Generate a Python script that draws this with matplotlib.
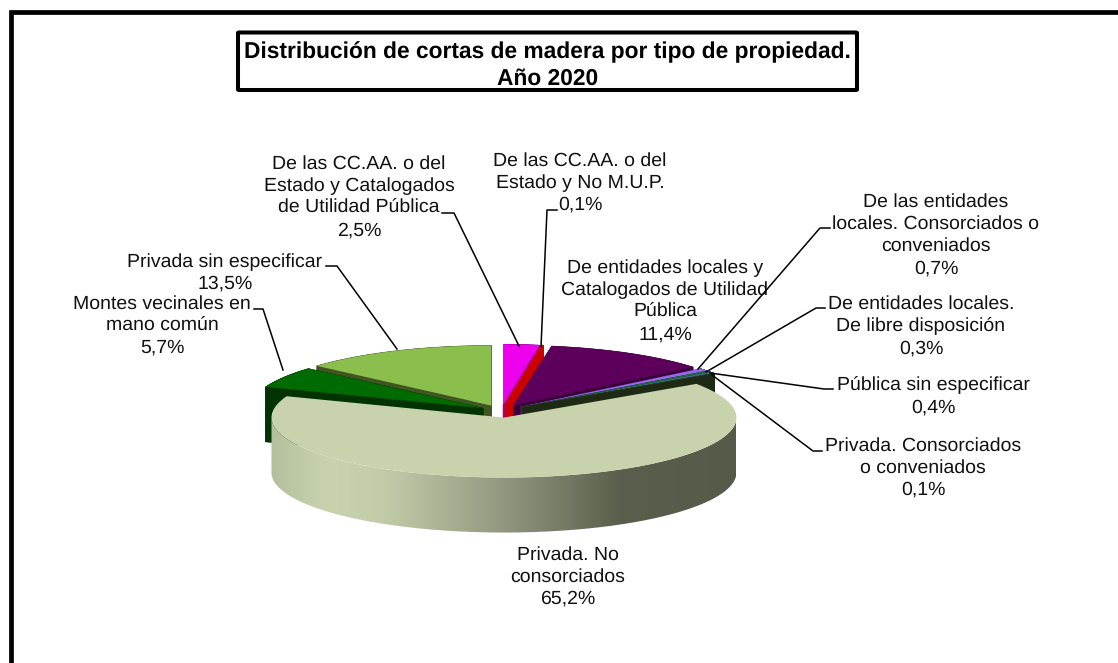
import numpy as np
from matplotlib import pyplot as plt
from matplotlib.collections import PolyCollection
from matplotlib.colors import LinearSegmentedColormap
from matplotlib.lines import Line2D
from matplotlib.patches import FancyBboxPatch, PathPatch, Rectangle
from matplotlib.path import Path

plt.rcParams['font.family'] = ['Liberation Sans', 'DejaVu Sans']
plt.rcParams['text.hinting'] = 'no_hinting'

labels = [
    "De las CC.AA. o del\nEstado y Catalogados\nde Utilidad Pública",
    "De las CC.AA. o del\nEstado y No M.U.P.",
    "De entidades locales y\nCatalogados de Utilidad\nPública",
    "De las entidades\nlocales. Consorciados o\nconveniados",
    "De entidades locales.\nDe libre disposición",
    "Pública sin especificar",
    "Privada. Consorciados\no conveniados",
    "Privada. No\nconsorciados",
    "Montes vecinales en\nmano común",
    "Privada sin especificar",
]
values = [2.5, 0.1, 11.4, 0.7, 0.3, 0.4, 0.1, 65.2, 5.7, 13.5]
explode = [0.11, 0.11, 0.11, 0.11, 0.11, 0.11, 0.11, 0.11, 0.09, 0.10]
top_colors = ['#ee00ee', '#cc0000', '#5c005c', '#9966ee', '#1a7a30', '#3a6e8a',
              '#39481f', '#c8d3ae', '#006b00', '#8abf4d']
side_colors = ['#a000a0', '#cc0000', '#3a003a', '#5a3a90', '#0f4a1c', '#20404f',
               '#1f2a14', '#c8d3ae', '#003300', '#3f5522']
# pila de dibujo: de atras hacia delante
stack = [1, 2, 3, 4, 5, 6, 7, 10, 9, 8]

# posicion de cada etiqueta en pixeles (centro x, centro y del bloque)
label_pos = [(359, 197), (580, 183), (665, 301), (936, 235), (921, 326),
             (933, 396), (923, 468), (568, 577), (162, 326), (225, 273)]
leaders = [
    [(442, 213), (454, 213), (519, 346)],
    [(557, 210), (547, 210), (541, 347)],
    [(830, 228), (820, 228), (698, 369)],
    [(825, 308), (816, 308), (706, 372)],
    [(833, 389), (824, 389), (710, 373)],
    [(822, 451), (813, 451), (712, 375)],
    None,
    None,
    [(254, 309), (263, 309), (283, 370)],
    [(326, 266), (337, 266), (397, 349)],
]

W, H = 1118, 663
cx, cy, rx, ry, depth = 501, 411, 232.5, 60, 55
FS = 14

fig = plt.figure(figsize=(W / 100, H / 100), dpi=100)
ax = fig.add_axes([0, 0, 1, 1])
wedges, _ = ax.pie(values, explode=explode, startangle=90,
                   counterclock=False, colors=top_colors)
ax.set_aspect('auto')
xlim = ((0 - cx) / rx, (W - cx) / rx)
ylim = ((cy - H) / ry, cy / ry)
drop = depth / ry

for w, side, z in zip(wedges, side_colors, stack):
    w.set_zorder(z + 0.5)
    if z == 10:
        continue
    th = np.radians(np.linspace(w.theta1, w.theta2, 120))
    px = w.center[0] + np.cos(th)
    py = w.center[1] + np.sin(th)
    pts = np.column_stack([np.r_[w.center[0], px], np.r_[w.center[1], py]])
    nxt = np.roll(pts, -1, axis=0)
    quads = [[a, b, b - [0, drop], a - [0, drop]] for a, b in zip(pts, nxt)]
    ax.add_collection(PolyCollection(quads, facecolors=side, edgecolors=side,
                                     linewidths=0.4, zorder=z))

# pared de la porcion grande con degradado, solo la mitad delantera
main = wedges[7]
th = np.radians(np.linspace(180, 360, 300))
rim = np.column_stack([main.center[0] + np.cos(th), main.center[1] + np.sin(th)])
wall = np.vstack([rim, rim[::-1] - [0, drop], rim[:1]])
shade = LinearSegmentedColormap.from_list('shade', [
    (0.0, '#b4bf9e'), (0.12, '#c8d3ae'), (0.24, '#c2cca9'), (0.5, '#92987f'),
    (0.75, '#5a5f4d'), (1.0, '#555a49')])
x0, x1 = main.center[0] - 1, main.center[0] + 1
img = ax.imshow(np.linspace(0, 1, 256).reshape(1, -1), cmap=shade, aspect='auto',
                extent=(x0, x1, -6, 2), zorder=10)
clip = PathPatch(Path(wall), transform=ax.transData, facecolor='none', edgecolor='none')
ax.add_patch(clip)
img.set_clip_path(clip)

ax.set_xlim(xlim)
ax.set_ylim(ylim)
ax.axis('off')

# texto y guias en pixeles
for lab, val, (x, y) in zip(labels, values, label_pos):
    txt = lab + "\n" + f"{val:.1f}".replace('.', ',') + "%"
    fig.text(x / W, 1 - y / H, txt, ha='center', va='center', fontsize=FS,
             linespacing=1.32, color='#111111', zorder=20)
for seg in leaders:
    if seg is None:
        continue
    xs = [p[0] / W for p in seg]
    ys = [1 - p[1] / H for p in seg]
    fig.add_artist(Line2D(xs, ys, color='black', lw=1.1, zorder=21))

# marco exterior, se sale por la derecha y por abajo
fig.add_artist(Rectangle((10.5 / W, 1 - (H + 20) / H), (W + 20) / W, (H + 8) / H,
                         transform=fig.transFigure, fill=False, edgecolor='black',
                         lw=3.4, zorder=30))
fig.add_artist(FancyBboxPatch((238 / W, 1 - 90 / H), 619 / W, 57.5 / H,
                              boxstyle='round,pad=0,rounding_size=0.001',
                              transform=fig.transFigure, facecolor='white',
                              edgecolor='black', lw=2.9, zorder=31))
fig.text(547.5 / W, 1 - 65 / H, "Distribución de cortas de madera por tipo de propiedad.\nAño 2020",
         ha='center', va='center', fontsize=16.4, fontweight='bold', linespacing=1.31,
         zorder=32)

plt.savefig("out.png", dpi=100)
